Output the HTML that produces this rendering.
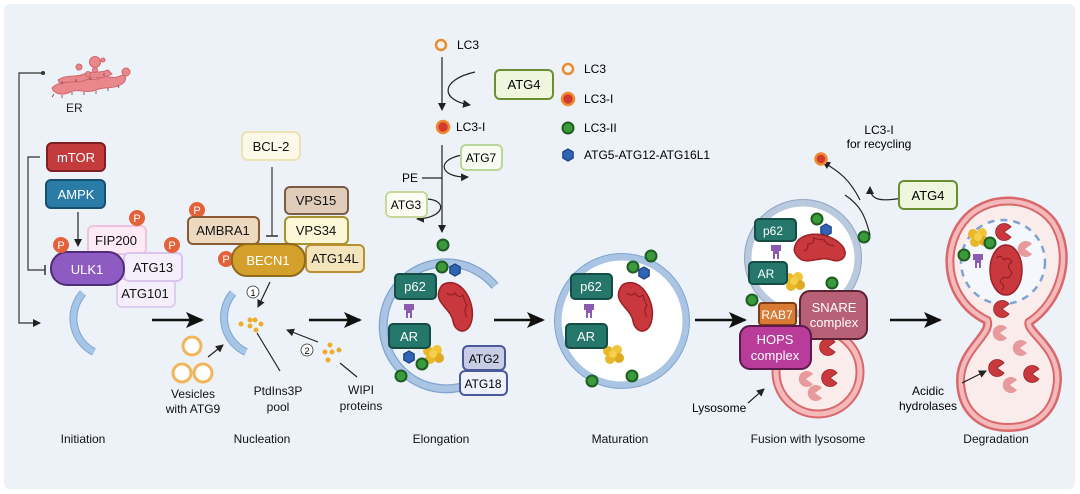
<!DOCTYPE html>
<html><head><meta charset="utf-8"><style>
html,body{margin:0;padding:0;background:#fff;}
svg{display:block;font-family:"Liberation Sans",Arial,sans-serif;}
</style></head><body>
<svg width="1080" height="494" viewBox="0 0 1080 494" xmlns="http://www.w3.org/2000/svg">
<defs>
<marker id="ah" markerWidth="8" markerHeight="8" refX="7" refY="4" orient="auto" markerUnits="userSpaceOnUse"><path d="M0,0 L8,4 L0,8 Z" fill="#222"/></marker>
<marker id="ahb" markerWidth="18" markerHeight="16" refX="16" refY="8" orient="auto" markerUnits="userSpaceOnUse"><path d="M0,0 L18,8 L0,16 L4,8 Z" fill="#111"/></marker>
<g id="gd"><circle r="5.5" fill="#3a9a3c" stroke="#1e5e22" stroke-width="2"/></g>
<g id="hx"><polygon points="0,-6 5.2,-3 5.2,3 0,6 -5.2,3 -5.2,-3" fill="#2f64b5" stroke="#1a3f80" stroke-width="1.2"/></g>
<g id="mito"><path d="M-8,-22 C8,-26 22,0 16,18 C12,30 0,28 -2,16 C-4,4 -20,-2 -16,-14 C-14,-20 -12,-21 -8,-22Z" fill="#c9383c" stroke="#9a2226" stroke-width="1.5"/><path d="M-8,-12 q4,4 8,0 q4,6 8,2 q2,8 4,10 q-4,6 0,12" fill="none" stroke="#8c1d20" stroke-width="1"/></g>
<g id="yel"><circle cx="-5" cy="-3" r="5" fill="#e8b82a"/><circle cx="4" cy="-4" r="5" fill="#f0c53a"/><circle cx="6" cy="4" r="5" fill="#e0aa20"/><circle cx="-3" cy="5" r="5" fill="#e8b82a"/><circle cx="0" cy="0" r="4" fill="#f3cf4a"/></g>
<g id="pur"><path d="M-6,-8 h10 v6 h-2 v8 h-2 v-5 h-2 v5 h-2 v-8 h-2z" fill="#8a5bb0"/></g>
<g id="pac"><path d="M0,0 L7,-5 A8.5,8.5 0 1 0 7,5 Z" fill="#c9383c" stroke="#9a2226" stroke-width="0.8"/></g>
<g id="pacl"><path d="M0,0 L7,-5 A8,8 0 1 0 7,5 Z" fill="#e69a9b"/></g>
</defs>
<rect x="0" y="0" width="1080" height="494" fill="#fff"/>
<rect x="4" y="4" width="1071" height="485" rx="6" fill="#edf2f9"/>

<!-- ER -->
<g fill="#e8888c" stroke="#d0676b" stroke-width="1">
<path d="M52,88 C60,80 70,84 78,80 C86,76 92,82 100,78 C108,74 112,80 120,76 C126,73 128,80 122,84 C112,90 104,86 96,90 C86,94 78,88 70,92 C62,96 54,94 52,88Z"/>
<path d="M58,80 C66,74 76,78 84,74 C92,70 100,74 108,70 L112,74 C102,80 94,76 86,80 C76,84 68,80 60,84Z"/>
<circle cx="95" cy="62" r="5.5"/><circle cx="95" cy="70" r="2.5"/><circle cx="79" cy="67" r="3"/><circle cx="126" cy="72" r="4"/><circle cx="88" cy="74" r="2.5"/><circle cx="103" cy="60" r="2"/>
</g>
<g stroke="#7a3a3c" stroke-width="0.8"><path d="M54,94 l-2,3 M62,95 l0,3 M72,92 l0,3 M84,92 l0,3 M96,91 l0,3 M108,88 l0,3 M118,85 l1,3 M62,84 l0,-3 M76,82 l0,-3 M90,80 l0,-3 M104,76 l0,-3"/></g>
<text x="66" y="112" font-size="12" fill="#222">ER</text>
<!-- left bracket -->
<polyline points="43,73 19,73 19,323 40,323" fill="none" stroke="#333" stroke-width="1.2" marker-end="url(#ah)"/>
<circle cx="43" cy="73" r="2" fill="#333"/>
<polyline points="40,157 28,157 28,270 45,270" fill="none" stroke="#333" stroke-width="1.2"/>
<line x1="45" y1="265" x2="45" y2="275" stroke="#333" stroke-width="1.5"/>
<rect x="47" y="143" width="58" height="28" rx="5" fill="#c43b3e" stroke="#7e1f22" stroke-width="2"/>
<text x="76" y="162" font-size="13" fill="#fff" text-anchor="middle">mTOR</text>
<rect x="46" y="180" width="59" height="28" rx="5" fill="#2a7ba8" stroke="#174f70" stroke-width="2"/>
<text x="76" y="199" font-size="13" fill="#fff" text-anchor="middle">AMPK</text>
<line x1="78" y1="212" x2="78" y2="246" stroke="#222" stroke-width="1.2" marker-end="url(#ah)"/>
<rect x="88" y="226" width="58" height="28" rx="5" fill="#fdeaf4" stroke="#f1c3db" stroke-width="2"/>
<text x="116" y="245" font-size="13" fill="#111" text-anchor="middle">FIP200</text>
<rect x="117" y="279" width="58" height="28" rx="5" fill="#f5eefb" stroke="#dfcdef" stroke-width="2"/>
<text x="145" y="298" font-size="13" fill="#111" text-anchor="middle">ATG101</text>
<rect x="124" y="253" width="58" height="28" rx="5" fill="#f5eefb" stroke="#d9c4ee" stroke-width="2"/>
<text x="153" y="272" font-size="13" fill="#111" text-anchor="middle">ATG13</text>
<rect x="51" y="252" width="73" height="33" rx="16" fill="#8e5bc2" stroke="#4e2c77" stroke-width="2"/>
<text x="87" y="274" font-size="13" fill="#fff" text-anchor="middle">ULK1</text>
<g font-size="11" fill="#fff" text-anchor="middle">
<circle cx="137" cy="218" r="8" fill="#e4623a"/><text x="137" y="222">P</text>
<circle cx="61" cy="245" r="8" fill="#e4623a"/><text x="61" y="249">P</text>
<circle cx="172" cy="245" r="8" fill="#e4623a"/><text x="172" y="249">P</text>
<circle cx="197" cy="210" r="8" fill="#e4623a"/><text x="197" y="214">P</text>
<circle cx="226" cy="259" r="8" fill="#e4623a"/><text x="226" y="263">P</text>
</g>
<!-- crescents -->
<path d="M83,293 A38,38 0 0 0 94,352" fill="none" stroke="#7ea6d2" stroke-width="8"/>
<path d="M83,293 A38,38 0 0 0 94,352" fill="none" stroke="#a6c6e8" stroke-width="6"/>
<path d="M233,293 A38,38 0 0 0 246,352" fill="none" stroke="#7ea6d2" stroke-width="8"/>
<path d="M233,293 A38,38 0 0 0 246,352" fill="none" stroke="#a6c6e8" stroke-width="6"/>
<line x1="152" y1="320" x2="202" y2="320" stroke="#111" stroke-width="2.5" marker-end="url(#ahb)"/>
<line x1="309" y1="320" x2="360" y2="320" stroke="#111" stroke-width="2.5" marker-end="url(#ahb)"/>
<!-- nucleation -->
<rect x="242" y="132" width="58" height="28" rx="6" fill="#fdf9e8" stroke="#ece2b6" stroke-width="2"/>
<text x="271" y="151" font-size="13" fill="#111" text-anchor="middle">BCL-2</text>
<line x1="272" y1="167" x2="272" y2="236" stroke="#333" stroke-width="1.2"/><line x1="266" y1="236" x2="278" y2="236" stroke="#333" stroke-width="1.5"/>
<rect x="285" y="187" width="63" height="27" rx="5" fill="#dfccb9" stroke="#7a5c43" stroke-width="2"/>
<text x="316" y="205" font-size="13" fill="#111" text-anchor="middle">VPS15</text>
<rect x="285" y="217" width="63" height="27" rx="5" fill="#fbf7d7" stroke="#a89230" stroke-width="2"/>
<text x="316" y="235" font-size="13" fill="#111" text-anchor="middle">VPS34</text>
<rect x="306" y="245" width="58" height="27" rx="5" fill="#f4e4bb" stroke="#b8902f" stroke-width="2"/>
<text x="335" y="263" font-size="13" fill="#111" text-anchor="middle">ATG14L</text>
<rect x="188" y="217" width="71" height="27" rx="5" fill="#edd9c0" stroke="#8a5a33" stroke-width="2"/>
<text x="223" y="235" font-size="13" fill="#111" text-anchor="middle">AMBRA1</text>
<rect x="232" y="244" width="73" height="32" rx="15" fill="#d4a02c" stroke="#8e6a1a" stroke-width="2"/>
<text x="268" y="265" font-size="13" fill="#fff" text-anchor="middle">BECN1</text>
<line x1="270" y1="282" x2="258" y2="307" stroke="#222" stroke-width="1.2" marker-end="url(#ah)"/>
<circle cx="253" cy="292" r="6" fill="#fff" stroke="#333" stroke-width="0.8"/><text x="253" y="296" font-size="9" text-anchor="middle">1</text>
<circle cx="307" cy="350" r="6" fill="#fff" stroke="#333" stroke-width="0.8"/><text x="307" y="354" font-size="9" text-anchor="middle">2</text>
<g fill="#eeab2c"><circle cx="241" cy="324" r="2.5"/><circle cx="250" cy="320" r="2.5"/><circle cx="255" cy="320" r="2.5"/><circle cx="250" cy="326" r="2.5"/><circle cx="261" cy="324" r="2.5"/><circle cx="256" cy="330" r="2.5"/>
<circle cx="330" cy="345" r="2.5"/><circle cx="325" cy="352" r="2.5"/><circle cx="332" cy="352" r="2.5"/><circle cx="339" cy="350" r="2.5"/><circle cx="328" cy="360" r="2.5"/></g>
<line x1="257" y1="333" x2="280" y2="371" stroke="#222" stroke-width="1.2"/>
<line x1="318" y1="342" x2="287" y2="330" stroke="#222" stroke-width="1.2" marker-end="url(#ah)"/>
<line x1="340" y1="363" x2="357" y2="377" stroke="#222" stroke-width="1.2"/>
<line x1="208" y1="357" x2="223" y2="345" stroke="#222" stroke-width="1.2" marker-end="url(#ah)"/>
<g fill="#fff" stroke="#f1b55a" stroke-width="3"><circle cx="192" cy="346" r="9"/><circle cx="182" cy="373" r="9"/><circle cx="203" cy="373" r="9"/></g>
<g font-size="12" fill="#111" text-anchor="middle">
<text x="193" y="398">Vesicles</text><text x="193" y="413">with ATG9</text>
<text x="278" y="395">PtdIns3P</text><text x="278" y="411">pool</text>
<text x="361" y="394">WIPI</text><text x="361" y="410">proteins</text>
</g>
<!-- elongation -->
<circle cx="441" cy="45" r="5" fill="#eef4f4" stroke="#ee8a30" stroke-width="2.5"/><text x="457" y="49" font-size="12">LC3</text>
<line x1="442" y1="57" x2="442" y2="110" stroke="#222" stroke-width="1.2" marker-end="url(#ah)"/>
<path d="M475,72 C440,80 440,100 470,105" fill="none" stroke="#222" stroke-width="1.2" marker-end="url(#ah)"/>
<rect x="495" y="70" width="58" height="29" rx="5" fill="#eff6de" stroke="#6a8f33" stroke-width="2"/>
<text x="524" y="89" font-size="13" text-anchor="middle">ATG4</text>
<circle cx="568" cy="69" r="5" fill="#eef4f4" stroke="#ee8a30" stroke-width="2.5"/><text x="584" y="73" font-size="12">LC3</text>
<circle cx="568" cy="99" r="6" fill="#d23a2e" stroke="#ee8a30" stroke-width="2.5"/><text x="584" y="103" font-size="12">LC3-I</text>
<use href="#gd" x="568" y="128"/><text x="584" y="132" font-size="12">LC3-II</text>
<use href="#hx" x="568" y="155"/><text x="584" y="159" font-size="12">ATG5-ATG12-ATG16L1</text>
<circle cx="443" cy="127" r="6" fill="#d23a2e" stroke="#ee8a30" stroke-width="2.5"/><text x="456" y="131" font-size="12">LC3-I</text>
<line x1="442" y1="145" x2="442" y2="232" stroke="#222" stroke-width="1.2" marker-end="url(#ah)"/>
<path d="M462,155 C435,160 440,178 468,177" fill="none" stroke="#222" stroke-width="1.2" marker-end="url(#ah)"/>
<rect x="461" y="145" width="41" height="25" rx="5" fill="#f7fbf0" stroke="#b9d79c" stroke-width="2"/><text x="481" y="162" font-size="12" text-anchor="middle">ATG7</text>
<text x="402" y="182" font-size="12">PE</text><line x1="422" y1="178" x2="442" y2="178" stroke="#222" stroke-width="1.2"/>
<path d="M427,199 C448,200 445,218 417,219" fill="none" stroke="#222" stroke-width="1.2" marker-end="url(#ah)"/>
<rect x="386" y="192" width="41" height="25" rx="5" fill="#fcfdf2" stroke="#c7d99a" stroke-width="2"/><text x="406" y="209" font-size="12" text-anchor="middle">ATG3</text>
<use href="#gd" x="443" y="245"/>
<path d="M495,286 A63,63 0 1 0 480,379" fill="none" stroke="#7fa4cf" stroke-width="9"/>
<path d="M495,286 A63,63 0 1 0 480,379" fill="none" stroke="#a9c5e3" stroke-width="6.5"/>
<use href="#gd" x="442" y="267"/><use href="#hx" x="455" y="270"/>
<use href="#mito" x="455" y="305"/><use href="#pur" x="410" y="312"/><use href="#yel" x="433" y="354"/>
<rect x="395" y="274" width="41" height="25" rx="4" fill="#24776a" stroke="#154c43" stroke-width="2"/><text x="415" y="291" font-size="13" fill="#fff" text-anchor="middle">p62</text>
<rect x="389" y="324" width="41" height="24" rx="4" fill="#24776a" stroke="#154c43" stroke-width="2"/><text x="409" y="341" font-size="13" fill="#fff" text-anchor="middle">AR</text>
<use href="#hx" x="409" y="357"/><use href="#gd" x="422" y="364"/><use href="#gd" x="401" y="376"/>
<rect x="463" y="346" width="42" height="24" rx="5" fill="#c8cde6" stroke="#4a5a98" stroke-width="2"/><text x="484" y="363" font-size="12" text-anchor="middle">ATG2</text>
<rect x="460" y="371" width="47" height="24" rx="5" fill="#eef0fa" stroke="#4a5a98" stroke-width="2"/><text x="483" y="388" font-size="12" text-anchor="middle">ATG18</text>
<line x1="494" y1="320" x2="543" y2="320" stroke="#111" stroke-width="2.5" marker-end="url(#ahb)"/>
<!-- maturation -->
<circle cx="622" cy="321" r="64" fill="#fff" stroke="#a9c5e3" stroke-width="7"/>
<circle cx="622" cy="321" r="67.5" fill="none" stroke="#7fa4cf" stroke-width="1"/>
<use href="#gd" x="651" y="256"/><use href="#gd" x="633" y="267"/><use href="#hx" x="644" y="273"/>
<use href="#mito" x="635" y="305"/><use href="#pur" x="590" y="312"/><use href="#yel" x="613" y="354"/>
<rect x="571" y="274" width="41" height="25" rx="4" fill="#24776a" stroke="#154c43" stroke-width="2"/><text x="591" y="291" font-size="13" fill="#fff" text-anchor="middle">p62</text>
<rect x="566" y="324" width="41" height="24" rx="4" fill="#24776a" stroke="#154c43" stroke-width="2"/><text x="586" y="341" font-size="13" fill="#fff" text-anchor="middle">AR</text>
<use href="#gd" x="592" y="381"/><use href="#gd" x="632" y="376"/>
<line x1="695" y1="320" x2="745" y2="320" stroke="#111" stroke-width="2.5" marker-end="url(#ahb)"/>
<!-- fusion -->
<circle cx="818" cy="372" r="42" fill="#fbecec" stroke="#d9686b" stroke-width="9"/>
<circle cx="818" cy="372" r="42" fill="none" stroke="#f4b9ba" stroke-width="5"/>
<use href="#pac" x="828" y="347"/><use href="#pac" x="830" y="378"/><use href="#pacl" x="806" y="379"/><use href="#pacl" x="815" y="393"/>
<circle cx="803" cy="258" r="55" fill="#fff" stroke="#b9c9de" stroke-width="7"/>
<circle cx="803" cy="258" r="58.5" fill="none" stroke="#8fa6c4" stroke-width="1"/>
<use href="#gd" x="817" y="219"/><use href="#hx" x="826" y="230"/>
<use href="#mito" x="818" y="250" transform="rotate(-60 818 250)"/><use href="#pur" x="777" y="253"/><use href="#yel" x="794" y="281"/>
<use href="#gd" x="832" y="283"/><use href="#gd" x="864" y="237"/><use href="#gd" x="752" y="300"/>
<rect x="755" y="219" width="41" height="22" rx="4" fill="#24776a" stroke="#154c43" stroke-width="2"/><text x="773" y="235" font-size="12" fill="#fff" text-anchor="middle">p62</text>
<rect x="749" y="262" width="38" height="22" rx="4" fill="#24776a" stroke="#154c43" stroke-width="2"/><text x="766" y="278" font-size="12" fill="#fff" text-anchor="middle">AR</text>
<rect x="759" y="303" width="37" height="22" rx="3" fill="#d97a35" stroke="#7e3f14" stroke-width="2"/><text x="777" y="319" font-size="12" fill="#fff" text-anchor="middle">RAB7</text>
<rect x="800" y="291" width="67" height="48" rx="10" fill="#b86176" stroke="#5a2232" stroke-width="2"/><text x="834" y="312" font-size="13" fill="#fff" text-anchor="middle">SNARE</text><text x="834" y="327" font-size="13" fill="#fff" text-anchor="middle">complex</text>
<rect x="740" y="326" width="71" height="43" rx="10" fill="#b93b9a" stroke="#5a1a4a" stroke-width="2"/><text x="775" y="344" font-size="13" fill="#fff" text-anchor="middle">HOPS</text><text x="775" y="360" font-size="13" fill="#fff" text-anchor="middle">complex</text>
<text x="692" y="412" font-size="12">Lysosome</text>
<line x1="748" y1="403" x2="764" y2="389" stroke="#222" stroke-width="1.2" marker-end="url(#ah)"/>
<path d="M870,235 C865,215 860,205 845,195" fill="none" stroke="#222" stroke-width="1.2"/>
<path d="M860,200 C850,180 840,172 823,162" fill="none" stroke="#222" stroke-width="1.2" marker-end="url(#ah)"/>
<path d="M902,198 C880,202 870,200 870,187" fill="none" stroke="#222" stroke-width="1.2" marker-end="url(#ah)"/>
<circle cx="821" cy="159" r="5.5" fill="#d23a2e" stroke="#ee8a30" stroke-width="2.5"/>
<text x="879" y="134" font-size="12" text-anchor="middle">LC3-I</text><text x="879" y="148" font-size="12" text-anchor="middle">for recycling</text>
<rect x="899" y="181" width="58" height="28" rx="5" fill="#eff6de" stroke="#6a8f33" stroke-width="2"/><text x="928" y="200" font-size="13" text-anchor="middle">ATG4</text>
<line x1="890" y1="320" x2="940" y2="320" stroke="#111" stroke-width="2.5" marker-end="url(#ahb)"/>
<!-- degradation -->
<path d="M990,318 C950,300 944,252 966,224 C986,198 1030,198 1050,224 C1070,254 1058,300 1026,320 C1020,334 1055,346 1054,380 C1052,412 1032,424 1008,424 C984,424 964,410 964,380 C964,350 998,336 990,318Z" fill="#fbecec" stroke="#d9686b" stroke-width="16"/>
<path d="M990,318 C950,300 944,252 966,224 C986,198 1030,198 1050,224 C1070,254 1058,300 1026,320 C1020,334 1055,346 1054,380 C1052,412 1032,424 1008,424 C984,424 964,410 964,380 C964,350 998,336 990,318Z" fill="none" stroke="#f4b9ba" stroke-width="11"/>
<path d="M990,318 C950,300 944,252 966,224 C986,198 1030,198 1050,224 C1070,254 1058,300 1026,320 C1020,334 1055,346 1054,380 C1052,412 1032,424 1008,424 C984,424 964,410 964,380 C964,350 998,336 990,318Z" fill="#fbecec" stroke="#d9686b" stroke-width="2"/>
<circle cx="1003" cy="262" r="42" fill="#f4f7fc" stroke="#7fa4cf" stroke-width="2.5" stroke-dasharray="7,6"/>
<use href="#yel" x="978" y="237"/><use href="#gd" x="990" y="243"/><use href="#gd" x="964" y="255"/>
<use href="#pur" x="979" y="262"/><use href="#pac" x="1004" y="232"/><use href="#pacl" x="1025" y="249"/>
<ellipse cx="1006" cy="270" rx="16" ry="25" fill="#c9383c" stroke="#9a2226" stroke-width="1.5"/>
<path d="M996,258 q5,-4 8,2 q4,-4 8,2 q-6,4 -2,8 q4,4 -2,8 q-6,-2 -8,4 q6,4 2,8" fill="none" stroke="#8c1d20" stroke-width="1"/>
<use href="#pac" x="1002" y="309"/><use href="#pacl" x="1000" y="333"/><use href="#pacl" x="1020" y="348"/>
<use href="#pac" x="997" y="368"/><use href="#pac" x="1032" y="374"/><use href="#pacl" x="1010" y="385"/>
<line x1="962" y1="383" x2="986" y2="371" stroke="#222" stroke-width="1.2" marker-end="url(#ah)"/>
<text x="928" y="395" font-size="12" text-anchor="middle">Acidic</text><text x="928" y="410" font-size="12" text-anchor="middle">hydrolases</text>
<!-- stage labels -->
<g font-size="12" fill="#111" text-anchor="middle">
<text x="83" y="443">Initiation</text><text x="262" y="443">Nucleation</text><text x="441" y="443">Elongation</text>
<text x="620" y="443">Maturation</text><text x="808" y="443">Fusion with lysosome</text><text x="996" y="443">Degradation</text>
</g>
</svg>
</body></html>
